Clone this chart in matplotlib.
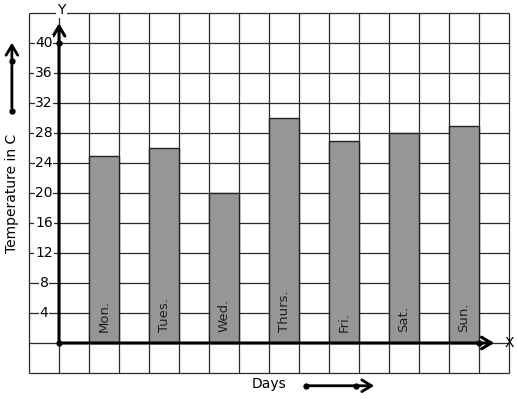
import matplotlib
matplotlib.use("Agg")
import matplotlib.pyplot as plt
import numpy as np

days = ["Mon.", "Tues.", "Wed.", "Thurs.", "Fri.", "Sat.", "Sun."]
temps = [25, 26, 20, 30, 27, 28, 29]
yticks = [4, 8, 12, 16, 20, 24, 28, 32, 36, 40]

# layout: 1 grid cell = 30 px; x in cells, y in degrees (4 per cell)
W, H = 517, 399
x0px, y0px = 59, 343       # origin pixel
sx, sy = 30.0, 30.0 / 4    # px per unit

fig = plt.figure(figsize=(W / 100, H / 100), dpi=100)
ax = fig.add_axes([0, 0, 1, 1])
ax.set_xlim(-x0px / sx, (W - x0px) / sx)
ax.set_ylim(-(H - y0px) / sy, y0px / sy)
ax.axis("off")

# grid
gx = np.arange(-1, 16)
gy = np.arange(-4, 45, 4)
ax.vlines(gx, -4, 44, color="#2a2a2a", lw=0.9, zorder=1)
ax.hlines(gy, -1, 15, color="#2a2a2a", lw=0.9, zorder=1)

# bars
xpos = np.arange(len(days)) * 2 + 1.5
ax.bar(xpos, temps, width=1.0, color="#969696", edgecolor="#222222", lw=1.0, zorder=2)
for x, d in zip(xpos, days):
    ax.text(x, 1.4, d, rotation=90, ha="center", va="bottom", fontsize=9.5,
            color="#222222", zorder=3)

arrow = dict(arrowstyle="->,head_length=0.5,head_width=0.3", color="black", mutation_scale=14)
# axes with arrows
ax.annotate("", xy=(0, 43.0), xytext=(0, 0), arrowprops=dict(arrow, lw=2.2), zorder=4)
ax.annotate("", xy=(14.6, 0), xytext=(0, 0), arrowprops=dict(arrow, lw=2.2), zorder=4)
ax.plot([0, 0, 14], [0, 40, 0], "o", color="black", ms=3.5, zorder=5)
ax.text(15.0, 0, "X", ha="center", va="center", fontsize=10, zorder=5)
ax.text(0.07, 44.4, "Y", ha="center", va="center", fontsize=10, zorder=5,
        bbox=dict(boxstyle="square,pad=0.1", fc="white", ec="none"))

# y tick labels
for v in yticks:
    ax.text(-0.5, v, str(v), ha="center", va="center", fontsize=10, zorder=5,
            bbox=dict(boxstyle="square,pad=0.05", fc="white", ec="none"))

# y axis label with arrow
ax.text(-1.55, 20.0, "Temperature in C", rotation=90, ha="center", va="center", fontsize=10)
ax.annotate("", xy=(-1.57, 40.4), xytext=(-1.57, 31.0), arrowprops=dict(arrow, lw=2.0))
ax.plot([-1.57, -1.57], [31.0, 37.6], "o", color="black", ms=3.5)

# x axis label with arrow
ax.text(7.0, -5.5, "Days", ha="center", va="center", fontsize=10)
ax.annotate("", xy=(10.6, -5.7), xytext=(8.23, -5.7), arrowprops=dict(arrow, lw=2.0))
ax.plot([8.23, 9.9], [-5.7, -5.7], "o", color="black", ms=3.5)

fig.savefig("out.png", dpi=100)
